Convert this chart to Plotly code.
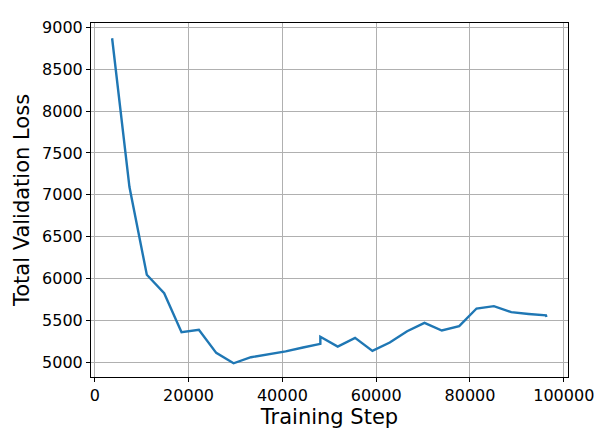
import plotly.graph_objects as go

steps = [3700, 7400, 11100, 14800, 18500, 22200, 25900, 29600, 33300, 37000,
         40700, 44400, 48100, 48100, 51800, 55500, 59200, 62900, 66600, 70300,
         74000, 77700, 81400, 85100, 88800, 92500, 96200, 96300]
loss = [8870, 7093, 6045, 5825, 5359, 5387, 5112, 4988, 5060, 5092,
        5130, 5176, 5220, 5305, 5188, 5292, 5136, 5236, 5371, 5471,
        5379, 5431, 5642, 5670, 5598, 5577, 5560, 5540]

x_ticks = [0, 20000, 40000, 60000, 80000, 100000]
y_ticks = [5000, 5500, 6000, 6500, 7000, 7500, 8000, 8500, 9000]

fig = go.Figure()
fig.add_trace(go.Scatter(x=steps, y=loss, mode="lines",
                         line=dict(color="#1f77b4", width=2.4)))

font = "DejaVu Sans"
fig.update_layout(
    width=595, height=432,
    margin=dict(l=90.5, r=27.3, t=23, b=55),
    paper_bgcolor="white", plot_bgcolor="white",
    showlegend=False,
    font=dict(family=font, color="black"),
)
fig.update_xaxes(
    range=[-800, 100900], tickvals=x_ticks, ticktext=[str(v) for v in x_ticks],
    showgrid=True, gridcolor="#b0b0b0", gridwidth=1,
    showline=True, linecolor="black", linewidth=1, mirror=True,
    ticks="outside", ticklen=4, tickcolor="black", tickfont=dict(size=16),
    zeroline=False, automargin=False,
    title=dict(text="Training Step", font=dict(size=21), standoff=4),
)
fig.update_yaxes(
    range=[4824, 9052], tickvals=y_ticks, ticktext=[str(v) for v in y_ticks],
    showgrid=True, gridcolor="#b0b0b0", gridwidth=1,
    showline=True, linecolor="black", linewidth=1, mirror=True,
    ticks="outside", ticklen=4, tickcolor="black", tickfont=dict(size=16),
    zeroline=False, automargin=False,
    title=dict(text="Total Validation Loss", font=dict(size=21), standoff=6),
)
fig.write_html(
    "out.html",
    config={"displayModeBar": False, "staticPlot": True},
    post_script="document.body.style.margin='0';document.body.style.overflow='hidden';",
)
